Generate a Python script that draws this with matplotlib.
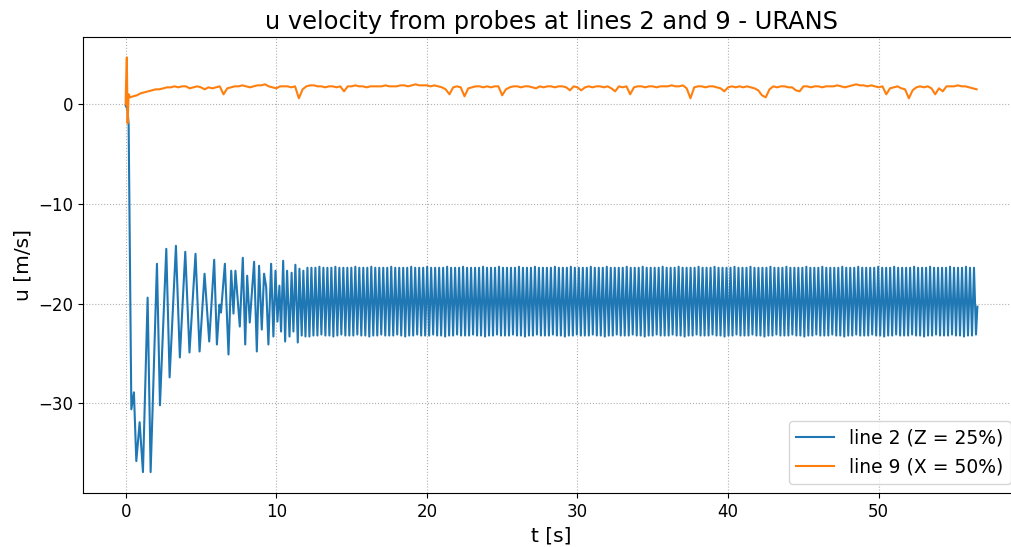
import numpy as np
import matplotlib
matplotlib.use("Agg")
import matplotlib.pyplot as plt

# line 2 (Z = 25%) - start-up transient, read point by point
blue_t_start = [0.0, 0.12, 0.2, 0.38, 0.55, 0.71, 0.93, 1.15, 1.46, 1.66,
                1.81, 2.08, 2.28, 2.70, 2.92, 3.34, 3.60, 3.96, 4.24, 4.64,
                4.91, 5.24, 5.55, 5.88, 6.06, 6.23, 6.33, 6.59, 6.83, 7.01,
                7.16, 7.29, 7.58, 7.78, 7.94, 8.07, 8.24, 8.37, 8.53, 8.71,
                8.86, 9.04, 9.19, 9.33, 9.48, 9.66, 9.81, 9.95, 10.08, 10.21,
                10.32, 10.46, 10.59, 10.72, 10.88, 11.02, 11.14, 11.27, 11.43, 11.54,
                11.69, 11.80, 11.94]
blue_u_start = [-0.1, -0.5, -2.0, -30.6, -28.9, -35.8, -31.9, -36.9, -19.4, -36.9,
                -29.6, -16.0, -30.2, -14.5, -27.4, -14.2, -25.4, -14.8, -24.9, -15.0,
                -24.8, -17.0, -23.8, -15.6, -24.1, -20.1, -20.9, -16.0, -25.1, -16.7,
                -21.0, -16.7, -22.3, -15.4, -24.1, -17.2, -21.9, -19.1, -15.8, -24.8,
                -16.2, -22.6, -17.0, -18.3, -24.1, -16.0, -23.3, -16.7, -21.8, -18.2,
                -22.8, -15.7, -23.8, -16.7, -23.3, -16.9, -22.8, -16.1, -23.9, -16.5,
                -23.2, -16.7, -23.3]

# line 2 - settled oscillation: peaks / troughs of each cycle
steady_t0 = 12.07
steady_period = 0.265
steady_hi = [
    -16.4, -16.4, -16.4, -16.3, -16.4, -16.4, -16.4, -16.3, -16.4, -16.4, -16.4, -16.4,
    -16.3, -16.4, -16.4, -16.4, -16.3, -16.4, -16.4, -16.4, -16.4, -16.3, -16.4, -16.4,
    -16.4, -16.4, -16.3, -16.4, -16.4, -16.4, -16.3, -16.4, -16.4, -16.4, -16.4, -16.3,
    -16.4, -16.4, -16.4, -16.3, -16.4, -16.4, -16.4, -16.4, -16.3, -16.4, -16.4, -16.4,
    -16.3, -16.4, -16.4, -16.4, -16.4, -16.3, -16.4, -16.4, -16.4, -16.3, -16.4, -16.4,
    -16.4, -16.4, -16.3, -16.4, -16.4, -16.4, -16.3, -16.4, -16.4, -16.4, -16.4, -16.3,
    -16.4, -16.4, -16.4, -16.3, -16.4, -16.4, -16.4, -16.4, -16.3, -16.4, -16.4, -16.4,
    -16.3, -16.4, -16.4, -16.4, -16.4, -16.3, -16.4, -16.4, -16.4, -16.3, -16.4, -16.4,
    -16.4, -16.4, -16.3, -16.4, -16.4, -16.4, -16.3, -16.4, -16.4, -16.4, -16.4, -16.3,
    -16.4, -16.4, -16.4, -16.3, -16.4, -16.4, -16.4, -16.4, -16.3, -16.4, -16.4, -16.4,
    -16.3, -16.4, -16.4, -16.4, -16.4, -16.3, -16.4, -16.4, -16.4, -16.3, -16.4, -16.4,
    -16.4, -16.4, -16.3, -16.4, -16.4, -16.4, -16.3, -16.4, -16.4, -16.4, -16.4, -16.3,
    -16.4, -16.4, -16.4, -16.3, -16.4, -16.4, -16.4, -16.4, -16.3, -16.4, -16.4, -16.4,
    -16.3, -16.4, -16.4, -16.4, -16.4, -16.3, -16.4, -16.4, -16.4, -16.3, -16.4, -16.4]
steady_lo = [
    -23.3, -23.2, -23.2, -23.1, -23.2, -23.2, -23.3, -23.2, -23.1, -23.2, -23.2, -23.2,
    -23.1, -23.2, -23.2, -23.3, -23.2, -23.2, -23.1, -23.2, -23.2, -23.2, -23.1, -23.2,
    -23.3, -23.2, -23.2, -23.1, -23.2, -23.2, -23.2, -23.1, -23.2, -23.2, -23.3, -23.2,
    -23.2, -23.1, -23.2, -23.2, -23.2, -23.1, -23.2, -23.2, -23.3, -23.2, -23.2, -23.1,
    -23.2, -23.2, -23.2, -23.1, -23.2, -23.2, -23.3, -23.2, -23.2, -23.1, -23.2, -23.2,
    -23.2, -23.1, -23.2, -23.2, -23.3, -23.2, -23.2, -23.1, -23.2, -23.2, -23.2, -23.1,
    -23.2, -23.2, -23.3, -23.2, -23.2, -23.1, -23.2, -23.2, -23.2, -23.1, -23.2, -23.2,
    -23.3, -23.2, -23.2, -23.1, -23.2, -23.2, -23.2, -23.1, -23.2, -23.2, -23.3, -23.2,
    -23.2, -23.1, -23.2, -23.2, -23.2, -23.1, -23.2, -23.2, -23.3, -23.2, -23.2, -23.1,
    -23.2, -23.2, -23.2, -23.1, -23.2, -23.2, -23.3, -23.2, -23.2, -23.1, -23.2, -23.2,
    -23.2, -23.1, -23.2, -23.2, -23.3, -23.2, -23.2, -23.1, -23.2, -23.2, -23.2, -23.1,
    -23.2, -23.2, -23.3, -23.2, -23.2, -23.1, -23.2, -23.2, -23.2, -23.1, -23.2, -23.2,
    -23.3, -23.2, -23.2, -23.1, -23.2, -23.2, -23.2, -23.1, -23.2, -23.2, -23.3, -23.2,
    -23.2, -23.1, -23.2, -23.2, -23.2, -23.1, -23.2, -23.2, -23.3, -23.2, -23.2, -23.1]
blue_t_end = 56.55
blue_u_end = -20.3

# line 9 (X = 50%)
orange_t_start = [0.0, 0.03, 0.08, 0.13, 0.2, 0.3]
orange_u_start = [0.0, 2.2, 4.7, -1.9, 1.0, 0.7]
orange_dt = 0.25
orange_t0 = 0.5
orange_u = [
    0.8, 0.9,
    1.1, 1.2, 1.3, 1.4,  1.5, 1.5, 1.6, 1.7,  1.7, 1.8, 1.7, 1.8,
    1.8, 1.6, 1.7, 1.8,  1.7, 1.5, 1.7, 1.6,  1.7, 1.8, 1.0, 1.6,
    1.7, 1.8, 1.8, 1.9,  1.8, 1.7, 1.8, 1.9,  1.9, 2.0, 1.8, 1.7,
    1.6, 1.8, 1.8, 1.8,  1.7, 1.8, 0.6, 1.5,  1.8, 1.9, 1.9, 1.8,
    1.8, 1.7, 1.8, 1.8,  1.7, 1.8, 1.3, 1.8,  1.8, 1.9, 1.8, 1.8,
    1.7, 1.8, 1.8, 1.8,  1.8, 1.9, 1.8, 1.8,  1.8, 1.9, 1.9, 1.8,
    1.9, 2.0, 1.9, 1.9,  1.9, 1.8, 1.9, 1.8,  1.7, 1.5, 1.0, 1.7,
    1.8, 1.7, 0.8, 1.6,  1.7, 1.8, 1.8, 1.7,  1.8, 1.7, 1.8, 1.8,
    0.9, 1.5, 1.7, 1.8,  1.8, 1.7, 1.8, 1.8,  1.7, 1.6, 1.8, 1.7,
    1.8, 1.8, 1.7, 1.8,  1.8, 1.7, 1.4, 1.8,  1.7, 1.4, 1.7, 1.8,
    1.7, 1.8, 1.8, 1.7,  1.8, 1.6, 1.3, 1.8,  1.7, 1.8, 1.0, 1.7,
    1.8, 1.8, 1.7, 1.8,  1.8, 1.7, 1.8, 1.8,  1.8, 1.9, 1.8, 1.8,
    1.9, 1.6, 0.6, 1.7,  1.8, 1.8, 1.7, 1.8,  1.8, 1.7, 1.6, 1.3,
    1.7, 1.8, 1.7, 1.8,  1.7, 1.8, 1.7, 1.6,  1.4, 0.9, 0.7, 1.5,
    1.8, 1.7, 1.8, 1.8,  1.7, 1.7, 1.4, 1.3,  1.8, 1.8, 1.7, 1.8,
    1.8, 1.7, 1.8, 1.8,  1.8, 1.9, 1.8, 1.7,  1.8, 1.9, 2.0, 1.9,
    1.9, 1.8, 1.9, 1.8,  1.7, 1.8, 1.0, 1.6,  1.7, 1.8, 1.6, 1.5,
    0.6, 1.4, 1.7, 1.8,  1.7, 1.8, 1.6, 1.0,  1.6, 1.3, 1.8, 1.8,
    1.8, 1.9, 1.8, 1.8,
    1.7, 1.6, 1.5]

# assemble line 2
blue_t = list(blue_t_start)
blue_u = list(blue_u_start)
half = steady_period / 2
for i in range(len(steady_hi)):
    blue_t.append(steady_t0 + 2 * i * half)
    blue_u.append(steady_hi[i])
    blue_t.append(steady_t0 + (2 * i + 1) * half)
    blue_u.append(steady_lo[i])
blue_t.append(blue_t_end)
blue_u.append(blue_u_end)

# assemble line 9
orange_t = list(orange_t_start) + [orange_t0 + i * orange_dt for i in range(len(orange_u))]
orange_all = list(orange_u_start) + orange_u

fig = plt.figure(figsize=(10.11, 5.47), dpi=100)
ax = fig.add_axes([83 / 1011, 54 / 547, 937 / 1011, 456 / 547])

ax.plot(blue_t, blue_u, color='tab:blue', lw=1.5, label='line 2 (Z = 25%)')
ax.plot(orange_t, orange_all, color='tab:orange', lw=1.5, label='line 9 (X = 50%)')

ax.set_xlim(-2.83, 59.38)
ax.set_ylim(-39.0, 6.75)
ax.grid(True, linestyle=':', color='#b0b0b0', linewidth=0.8)
ax.tick_params(labelsize=12)
ax.set_xlabel('t [s]', fontsize=14.5)
ax.set_ylabel('u [m/s]', fontsize=14.5)
ax.set_title('u velocity from probes at lines 2 and 9 - URANS', fontsize=17.4)
ax.legend(loc='lower right', fontsize=13.5)

fig.savefig('out.png', dpi=100)
